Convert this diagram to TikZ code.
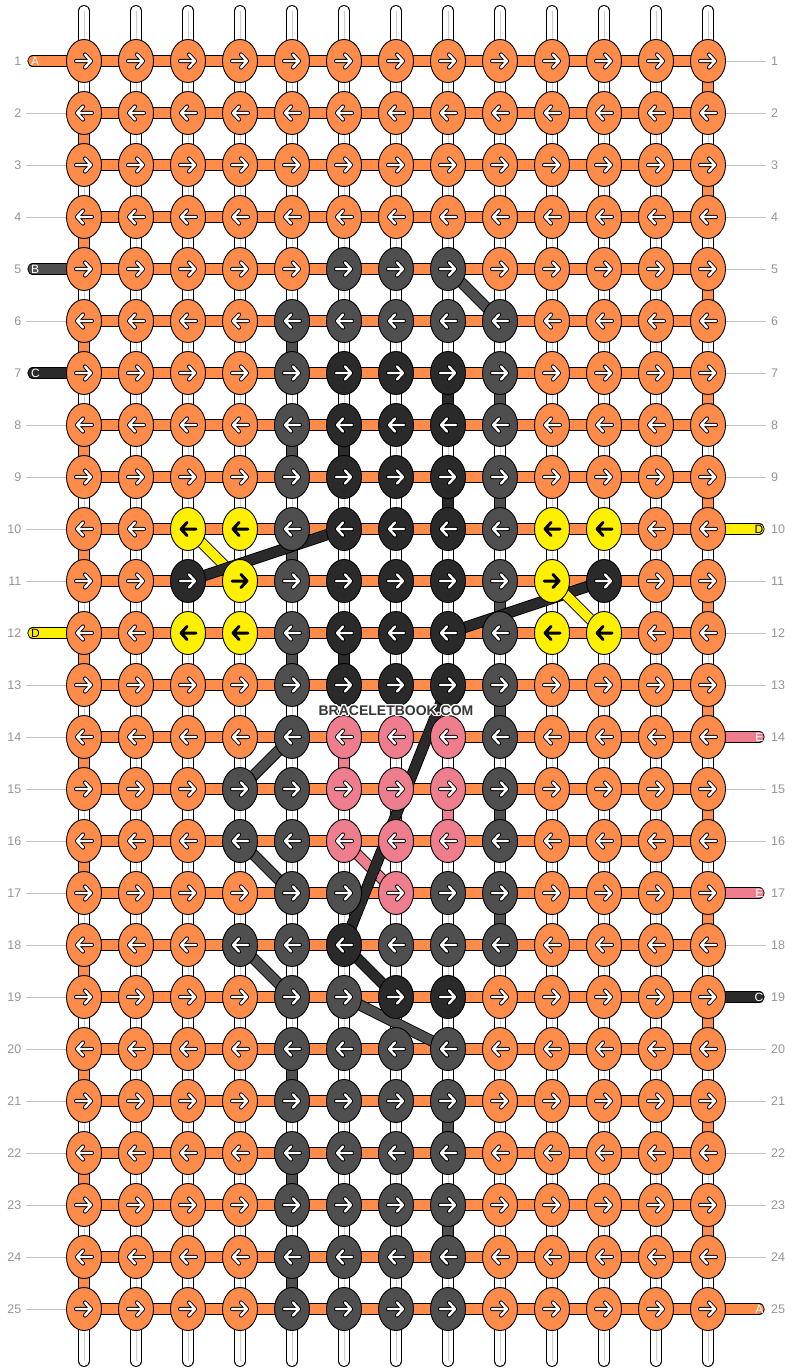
\documentclass[tikz,border=0pt]{standalone}
\usepackage{fontspec}
\setmainfont{Liberation Sans}
\usepackage[copies]{contour}
\usetikzlibrary{shapes.geometric}
\definecolor{colA}{RGB}{255,140,74}
\definecolor{colB}{RGB}{79,79,79}
\definecolor{colC}{RGB}{42,42,42}
\definecolor{colD}{RGB}{255,240,0}
\definecolor{colE}{RGB}{238,126,142}
\definecolor{numgray}{RGB}{150,150,150}
\definecolor{rulegray}{RGB}{195,195,195}
\definecolor{brandgray}{RGB}{55,55,55}
\contourlength{1pt}

\begin{document}
\begin{tikzpicture}[x=1pt,y=-1pt,
    knot/.style={ellipse,draw=black,line width=0.9pt,minimum width=35pt,minimum height=43pt,inner sep=0pt},
    kA/.style={knot,fill=colA},kB/.style={knot,fill=colB},kC/.style={knot,fill=colC},
    kD/.style={knot,fill=colD},kE/.style={knot,fill=colE},
    arw/.style={draw=black,line width=0.9pt,double=white,double distance=2.4pt,line cap=round,line join=round},
    aA/.style={arw},aB/.style={arw},aC/.style={arw},aE/.style={arw},
    aD/.style={draw=black,line width=3pt,line cap=round,line join=round},
    strand/.style={draw=black,line width=0.9pt,double distance=9.5pt},
    warp/.style={draw=black,line width=0.9pt,double=white,double distance=10pt,line cap=round},
    guide/.style={draw=rulegray,line width=0.8pt},
    num/.style={text=numgray,font=\fontsize{12.5}{12.5}\selectfont,inner sep=0pt},
    lett/.style={font=\fontsize{12}{12}\selectfont,inner sep=0pt}]
  \useasboundingbox[fill=white] (0,0) rectangle (792,1372);
  \foreach \r in {1,...,25}{
    \foreach \c in {1,...,13}
      \coordinate (p-\r-\c) at (32+52*\c,9+52*\r);
    \coordinate (L-\r) at (26,9+52*\r);
    \coordinate (R-\r) at (766,9+52*\r);
    \coordinate (in-\r) at (33,9+52*\r);
    \coordinate (out-\r) at (759,9+52*\r);
  }
  % white base strings
  \foreach \c in {1,...,13}{
    \coordinate (t-\c) at (32+52*\c,11);
    \coordinate (b-\c) at (32+52*\c,1361);
    \draw[warp] (t-\c) -- (b-\c);
    \draw[gray!40,line width=1pt] (t-\c) -- (b-\c);
  }
  % coloured pieces along the base strings
  \foreach \r [evaluate=\r as \s using int(\r+1)] in {2,4,...,24}
    \draw[strand,double=colA] (p-\r-1) -- (p-\s-1);
  \foreach \r [evaluate=\r as \s using int(\r+1)] in {1,3,...,23}
    \draw[strand,double=colA] (p-\r-13) -- (p-\s-13);
  \foreach \c/\r/\cl [evaluate=\r as \s using int(\r+1)] in {5/6/colB,5/8/colB,5/10/colB,5/12/colB,
      5/20/colB,5/22/colB,5/24/colB,6/8/colC,6/12/colC,8/7/colC,8/9/colC,8/21/colB,8/23/colB,
      9/7/colB,9/9/colB,9/11/colB,9/13/colB,9/15/colB,9/17/colB,6/14/colE,8/15/colE}
    \draw[strand,double=\cl] (p-\r-\c) -- (p-\s-\c);
  % rows
  \foreach \r in {1,...,25}
    \draw[strand,double=colA] (p-\r-1) -- (p-\r-13);
  \foreach \r in {2,3,4,6,8,9,10,11,13,14,...,25}
    \draw[guide] (L-\r) -- (p-\r-1);
  \foreach \r in {1,...,9,11,12,13,15,16,18,20,21,...,24}
    \draw[guide] (p-\r-13) -- (R-\r);
  \foreach \r/\cl/\t/\tc in {1/colA/A/white,5/colB/B/white,7/colC/C/white,12/colD/D/black}{
    \draw[strand,double=\cl,line cap=round] (in-\r) -- (p-\r-1);
    \node[lett,text=\tc,anchor=west] (li-\r) at (31,9+52*\r) {\t};
  }
  \foreach \r/\cl/\t/\tc in {10/colD/D/black,14/colE/E/white,17/colE/E/white,19/colC/C/white,25/colA/A/white}{
    \draw[strand,double=\cl,line cap=round] (p-\r-13) -- (out-\r);
    \node[lett,text=\tc,anchor=east] (lo-\r) at (763.5,9+52*\r) {\t};
  }
  % diagonal moves
  \foreach \a/\b/\cl in {5-8/6-9/colB,10-3/11-4/colD,11-3/10-6/colC,11-11/12-8/colC,11-10/12-11/colD,
      14-5/15-4/colB,16-6/17-7/colE,13-8/18-6/colC,16-4/17-5/colB,18-6/19-7/colC,18-4/19-5/colB,19-6/20-8/colB}
    \draw[strand,double=\cl] (p-\a) -- (p-\b);
  % knots
  \foreach \r/\row [evaluate=\r as \dir using {int(1-2*mod(\r+1,2))}] in {
      1/{A,A,A,A,A,A,A,A,A,A,A,A,A},2/{A,A,A,A,A,A,A,A,A,A,A,A,A},
      3/{A,A,A,A,A,A,A,A,A,A,A,A,A},4/{A,A,A,A,A,A,A,A,A,A,A,A,A},
      5/{A,A,A,A,A,B,B,B,A,A,A,A,A},6/{A,A,A,A,B,B,B,B,B,A,A,A,A},
      7/{A,A,A,A,B,C,C,C,B,A,A,A,A},8/{A,A,A,A,B,C,C,C,B,A,A,A,A},
      9/{A,A,A,A,B,C,C,C,B,A,A,A,A},10/{A,A,D,D,B,C,C,C,B,D,D,A,A},
      11/{A,A,C,D,B,C,C,C,B,D,C,A,A},12/{A,A,D,D,B,C,C,C,B,D,D,A,A},
      13/{A,A,A,A,B,C,C,C,B,A,A,A,A},14/{A,A,A,A,B,E,E,E,B,A,A,A,A},
      15/{A,A,A,B,B,E,E,E,B,A,A,A,A},16/{A,A,A,B,B,E,E,E,B,A,A,A,A},
      17/{A,A,A,A,B,B,E,B,B,A,A,A,A},18/{A,A,A,B,B,C,B,B,B,A,A,A,A},
      19/{A,A,A,A,B,B,C,C,A,A,A,A,A},20/{A,A,A,A,B,B,B,B,A,A,A,A,A},
      21/{A,A,A,A,B,B,B,B,A,A,A,A,A},22/{A,A,A,A,B,B,B,B,A,A,A,A,A},
      23/{A,A,A,A,B,B,B,B,A,A,A,A,A},24/{A,A,A,A,B,B,B,B,A,A,A,A,A},
      25/{A,A,A,A,B,B,B,B,A,A,A,A,A}}{
    \foreach \k [count=\c] in \row {
      \node[k\k] (k-\r-\c) at (p-\r-\c) {};
      \draw[a\k,shift={(p-\r-\c)},xscale=\dir] (-8,0) -- (7,0) (1,-6.5) -- (7,0) -- (1,6.5);
    }
  }
  % row numbers
  \foreach \r in {1,...,25}{
    \node[num,anchor=east] (nl-\r) at (21.5,9+52*\r) {\r};
    \node[num,anchor=west] (nr-\r) at (771,9+52*\r) {\r};
  }
  \node[text=brandgray,font=\bfseries\fontsize{14}{14}\selectfont,inner sep=0pt] (brand) at (396,711)
    {\contour{white}{BRACELETBOOK.COM}};
\end{tikzpicture}
\end{document}
